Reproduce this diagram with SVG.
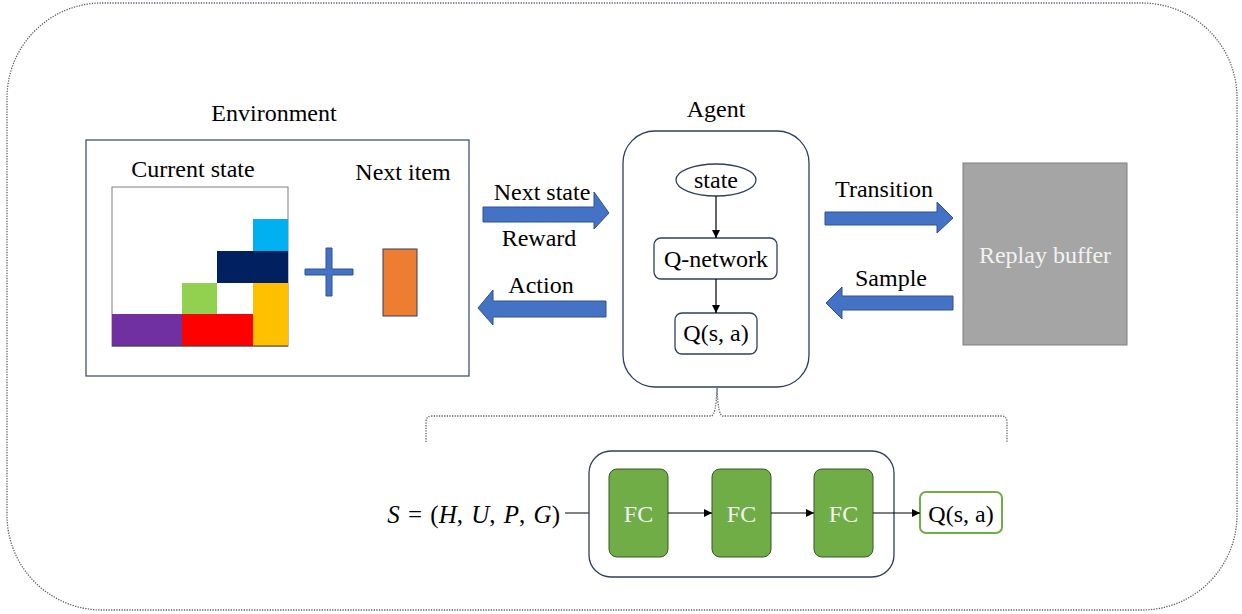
<svg xmlns="http://www.w3.org/2000/svg" width="1242" height="614" viewBox="0 0 1242 614" font-family="'Liberation Serif','Times New Roman',serif">
<defs>
<style>
text{font-family:"Liberation Serif","Times New Roman",serif;font-size:24px;fill:#000;text-anchor:middle}
.wt{fill:#f2f2f2}
.barrow{fill:#4472C4;stroke:#2F528F;stroke-width:1}
.thin{stroke:#000;stroke-width:1.2;fill:none}
.node{fill:#fff;stroke:#2F3F5F;stroke-width:1.3}
.fc{fill:#70AD47;stroke:#385723;stroke-width:1}
.dot{fill:none;stroke:#5a6270;stroke-width:1.3;stroke-dasharray:1.3 1.3}
</style>
<marker id="ah" viewBox="0 0 10 10" refX="10" refY="5" markerWidth="8" markerHeight="8" markerUnits="userSpaceOnUse" orient="auto">
<path d="M0,0 L10,5 L0,10 z" fill="#000"/>
</marker>
</defs>
<rect x="7" y="3" width="1230" height="607" rx="95" ry="95" class="dot" stroke="#44546A"/>

<g id="environment">
<text x="274" y="121">Environment</text>
<rect x="86" y="140" width="383" height="236" fill="#fff" stroke="#44546A" stroke-width="1.3"/>
<text x="193" y="177">Current state</text>
<text x="403" y="180">Next item</text>
<rect x="112" y="187" width="176" height="159" fill="#fff" stroke="#7f7f7f" stroke-width="1"/>
<rect x="253" y="219" width="35" height="32" fill="#00B0F0"/>
<rect x="217" y="251" width="71" height="32" fill="#002060"/>
<rect x="182" y="283" width="35" height="31" fill="#92D050"/>
<rect x="253" y="283" width="35" height="63" fill="#FFC000"/>
<rect x="112" y="314" width="70" height="32" fill="#7030A0"/>
<rect x="182" y="314" width="71" height="32" fill="#FF0000"/>
<line x1="112" y1="346" x2="288" y2="346" stroke="#404040" stroke-width="1"/>
<path d="M305,269 H326 V248 H332 V269 H353 V275 H332 V296 H326 V275 H305 Z" class="barrow"/>
<rect x="383" y="249" width="34" height="67" fill="#ED7D31" stroke="#2F3F5F" stroke-width="1"/>
</g>

<g id="agent">
<text x="716" y="117">Agent</text>
<rect x="623" y="131" width="186" height="256" rx="32" ry="32" class="node"/>
</g>
<g id="state">
<ellipse cx="716" cy="180" rx="40" ry="16" class="node"/>
<text x="716" y="188">state</text>
</g>
<g id="qnetwork">
<rect x="654" y="238" width="123" height="41" rx="7" ry="7" class="node"/>
<text x="716" y="267">Q-network</text>
</g>
<g id="qsa">
<rect x="675" y="313" width="82" height="41" rx="7" ry="7" class="node"/>
<text x="716" y="341">Q(s, a)</text>
</g>

<g id="replay-buffer">
<rect x="963" y="163" width="164" height="182" fill="#A5A5A5" stroke="#7f7f7f" stroke-width="1"/>
<text x="1045" y="263" class="wt">Replay buffer</text>
</g>

<g id="network">
<rect x="589" y="451" width="305" height="126" rx="22" ry="22" class="node"/>
</g>
<g id="fc1"><rect x="609" y="469" width="59" height="88" rx="8" ry="8" class="fc"/><text x="638.5" y="522" class="wt">FC</text></g>
<g id="fc2"><rect x="712" y="469" width="59" height="88" rx="8" ry="8" class="fc"/><text x="741.5" y="522" class="wt">FC</text></g>
<g id="fc3"><rect x="814" y="469" width="59" height="88" rx="8" ry="8" class="fc"/><text x="843.5" y="522" class="wt">FC</text></g>
<g id="qout">
<rect x="920" y="492" width="82" height="41" rx="6" ry="6" fill="#fff" stroke="#70AD47" stroke-width="2"/>
<text x="961" y="522">Q(s, a)</text>
</g>
<g id="input">
<text x="560" y="523" style="text-anchor:end;font-size:25px;word-spacing:2px"><tspan font-style="italic">S</tspan> = (<tspan font-style="italic">H</tspan>, <tspan font-style="italic">U</tspan>, <tspan font-style="italic">P</tspan>, <tspan font-style="italic">G</tspan>)</text>
</g>

<g id="connectors">
<polygon points="483,207 594,207 594,192 609,213 594,229 594,222 483,222" class="barrow"/>
<text x="542" y="200">Next state</text>
<text x="539" y="246">Reward</text>
<polygon points="606,301 493,301 493,290 478,308 493,325 493,317 606,317" class="barrow"/>
<text x="541" y="293">Action</text>
<polygon points="825,212 937,212 937,202 953,218 937,233 937,225 825,225" class="barrow"/>
<text x="884" y="197">Transition</text>
<polygon points="953,296 842,296 842,287 826,303 842,319 842,310 953,310" class="barrow"/>
<text x="891" y="286">Sample</text>
<line x1="716" y1="196" x2="716" y2="238" class="thin" marker-end="url(#ah)"/>
<line x1="716" y1="279" x2="716" y2="313" class="thin" marker-end="url(#ah)"/>
<path d="M426,442 V422 Q426,416 432,416 H711 Q716,416 717,388 Q718,416 723,416 H1001 Q1007,416 1007,422 V442" class="dot"/>
<line x1="565" y1="513" x2="589" y2="513" stroke="#404040" stroke-width="1.3"/>
<line x1="668" y1="513" x2="712" y2="513" class="thin" marker-end="url(#ah)"/>
<line x1="771" y1="513" x2="814" y2="513" class="thin" marker-end="url(#ah)"/>
<line x1="873" y1="513" x2="920" y2="513" class="thin" marker-end="url(#ah)"/>
</g>
</svg>
